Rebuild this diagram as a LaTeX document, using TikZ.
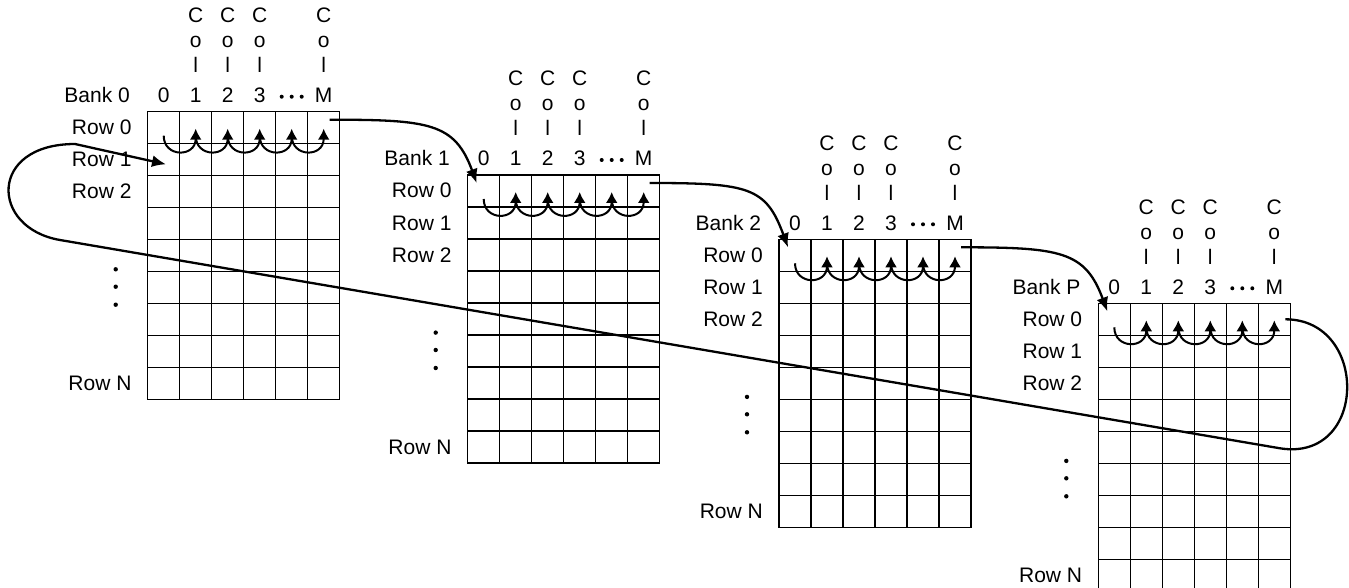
\documentclass[tikz,border=0pt]{standalone}
\usepackage{fontspec}
\setmainfont{Liberation Sans}
\usetikzlibrary{arrows.meta}

\begin{document}
\begin{tikzpicture}[x=1pt,y=-1pt,
  lbl/.style={inner sep=0pt,font=\fontsize{21}{25}\selectfont},
  cell/.style={line width=1.4pt},
  hop/.style={line width=2pt,-{Latex[length=11pt,width=12pt]}},
  link/.style={line width=2.3pt,-{Latex[length=14pt,width=12pt]}}]
  \clip (0,0) rectangle (1349,588);

  \foreach \bx/\by/\bn/\bl in {147.7/111.7/0/0,467.7/175/1/1,
                               779/239.3/2/2,1098.3/303.3/3/P} {
    \begin{scope}[shift={(\bx,\by)}]
      % cells: 6 columns, 9 rows
      \draw[cell] (0,0) rectangle (192,288);
      \foreach \i in {1,...,5}
        \draw[cell] (32*\i,0) -- (32*\i,288);
      \foreach \j in {1,...,8}
        \draw[cell] (0,32*\j) -- (192,32*\j);

      % column heads
      \node[lbl,anchor=base east] (b\bn-bank) at (-17.7,-9) {Bank \bl};
      \foreach \c in {0,1,2,3}
        \node[lbl,anchor=base] (b\bn-n\c) at (16+32*\c,-9) {\c};
      \node[lbl,anchor=base] (b\bn-nM) at (176,-9) {M};
      \foreach \d in {-10,0,10}
        \fill (144+\d,-15) circle (2);
      \foreach \c in {1,2,3,5} {
        \node[lbl,anchor=base] (b\bn-C\c) at (16+32*\c,-89) {C};
        \node[lbl,anchor=base] (b\bn-o\c) at (16+32*\c,-64) {o};
        \node[lbl,anchor=base] (b\bn-l\c) at (16+32*\c,-39) {l};
      }

      % row heads
      \node[lbl,anchor=base east] (b\bn-r0) at (-16,23) {Row 0};
      \node[lbl,anchor=base east] (b\bn-r1) at (-16,55) {Row 1};
      \node[lbl,anchor=base east] (b\bn-r2) at (-16,87) {Row 2};
      \node[lbl,anchor=base east] (b\bn-rN) at (-16,279) {Row N};
      \foreach \d in {157.6,175,193}
        \fill (-32,\d) circle (2.2);

      % walk along row 0
      \foreach \c in {0,...,4}
        \draw[hop] (16+32*\c,24) .. controls +(0,22) and +(0,29)
          .. (48+32*\c,17);

      \coordinate (b\bn-out) at (182,8);
      \coordinate (b\bn-in) at (9,8);
      \coordinate (b\bn-end) at (187,16);
    \end{scope}
  }
  \coordinate (b0-wrap) at (166,164.3);

  % bank to bank
  \foreach \a/\b in {0/1,1/2,2/3}
    \draw[link] (b\a-out) .. controls +(100,0) and +(-22,-60) .. (b\b-in);

  % back to bank 0, row 1
  \draw[link] (b3-end) .. controls +(84,0) and +(88,14) .. (1280,448.3)
    -- (60,240) .. controls (-10,228) and (-12,144) .. (75,144)
    -- (b0-wrap);
\end{tikzpicture}
\end{document}
